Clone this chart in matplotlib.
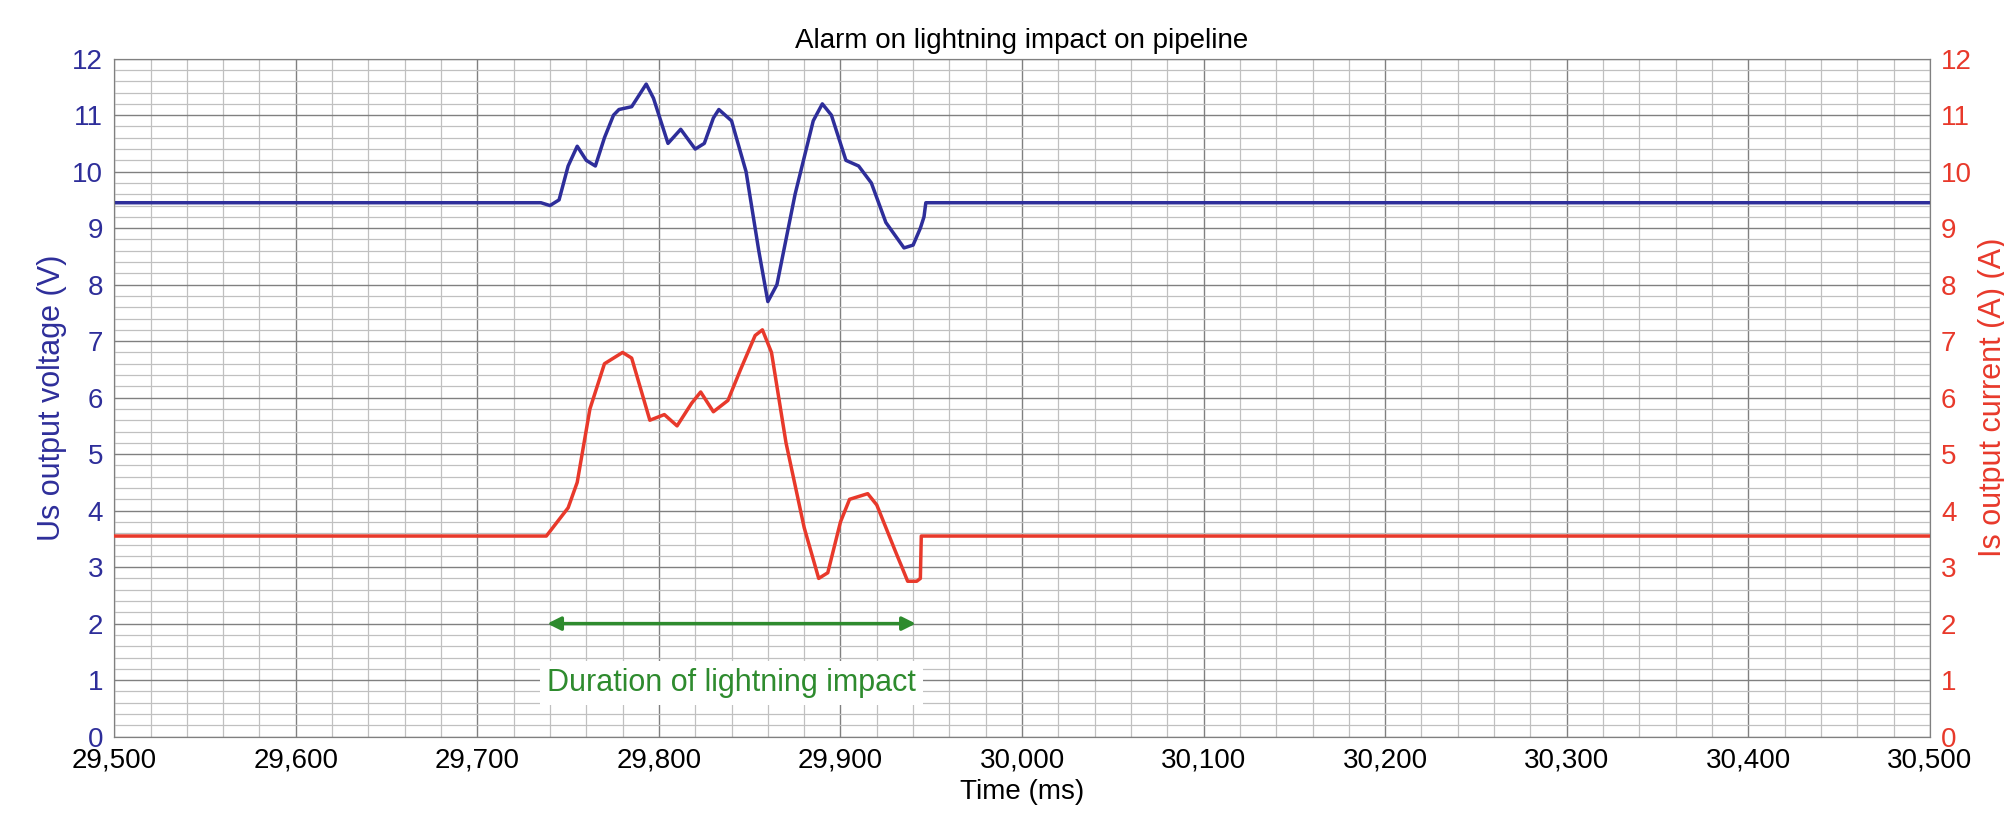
import matplotlib
matplotlib.use("Agg")
import matplotlib.pyplot as plt
from matplotlib.ticker import MultipleLocator, FuncFormatter

plt.rcParams["font.family"] = "Liberation Sans"

# Us output voltage (V)
t_us = [29500, 29735, 29740, 29745, 29750, 29755, 29760, 29765, 29770, 29775, 29778, 29785, 29790, 29793,
        29797, 29805, 29812, 29820, 29825, 29830, 29833, 29840, 29848, 29855, 29860, 29865, 29875,
        29885, 29890, 29895, 29903, 29910, 29917, 29925, 29935, 29940, 29944, 29946, 29947, 30500]
us = [9.45, 9.45, 9.4, 9.5, 10.1, 10.45, 10.2, 10.1, 10.6, 11.0, 11.1, 11.15, 11.4, 11.55,
      11.3, 10.5, 10.75, 10.4, 10.5, 10.95, 11.1, 10.9, 10.0, 8.6, 7.7, 8.0, 9.6,
      10.9, 11.2, 11.0, 10.2, 10.1, 9.8, 9.1, 8.65, 8.7, 9.0, 9.2, 9.45, 9.45]

# Is output current (A)
t_is = [29500, 29738, 29750, 29755, 29762, 29770, 29780, 29785, 29795, 29803, 29810, 29818,
        29823, 29830, 29838, 29845, 29853, 29857, 29862, 29870, 29880, 29888, 29893, 29900,
        29905, 29915, 29920, 29930, 29937, 29942, 29944, 29944.5, 30500]
i_s = [3.55, 3.55, 4.05, 4.5, 5.8, 6.6, 6.8, 6.7, 5.6, 5.7, 5.5, 5.9,
       6.1, 5.75, 5.95, 6.5, 7.1, 7.2, 6.8, 5.2, 3.7, 2.8, 2.9, 3.8,
       4.2, 4.3, 4.1, 3.3, 2.75, 2.75, 2.8, 3.55, 3.55]

arrow_start, arrow_end, arrow_y = 29737, 29943, 2.0

blue = "#2e2e9a"
red = "#e8392b"
green = "#2e8b2e"

fig = plt.figure(figsize=(20.04, 8.38), dpi=100)
ax = fig.add_axes([0.057, 0.121, 0.906, 0.809])
ax2 = ax.twinx()

ax.plot(t_us, us, color=blue, lw=2.5, zorder=3, solid_joinstyle="round")
ax2.plot(t_is, i_s, color=red, lw=2.5, zorder=3, solid_joinstyle="round")

for a in (ax, ax2):
    a.set_xlim(29500, 30500)
    a.set_ylim(0, 12)
    a.yaxis.set_major_locator(MultipleLocator(1))

ax.xaxis.set_major_locator(MultipleLocator(100))
ax.xaxis.set_minor_locator(MultipleLocator(20))
ax.yaxis.set_minor_locator(MultipleLocator(0.2))
ax.xaxis.set_major_formatter(FuncFormatter(lambda v, p: f"{int(v):,}"))
ax.grid(which="major", color="#808080", lw=1.0)
ax.grid(which="minor", color="#c0c0c0", lw=0.9)
ax.set_axisbelow(True)
ax.tick_params(which="both", length=0)
ax2.tick_params(which="both", length=0)
ax.tick_params(axis="x", labelsize=20, pad=8)
ax.tick_params(axis="y", labelsize=20, labelcolor=blue, pad=8)
ax2.tick_params(axis="y", labelsize=20, labelcolor=red, pad=8)
for s in ax.spines.values():
    s.set_color("#808080")
for s in ax2.spines.values():
    s.set_color("#808080")

ax.set_xlabel("Time (ms)", fontsize=20)
ax.set_ylabel("Us output voltage (V)", fontsize=22, color=blue)
ax2.set_ylabel("Is output current (A) (A)", fontsize=22, color=red)
ax.set_title("Alarm on lightning impact on pipeline", fontsize=20, pad=8)

ax.annotate("", xy=(arrow_start, arrow_y), xytext=(arrow_end, arrow_y),
            arrowprops=dict(arrowstyle="<|-|>", color=green, lw=2.5, mutation_scale=20))
ax.text((arrow_start + arrow_end) / 2, 0.95, "Duration of lightning impact", color=green,
        fontsize=22, ha="center", va="center",
        bbox=dict(facecolor="white", edgecolor="none", pad=5))

fig.savefig("out.png", dpi=100)
